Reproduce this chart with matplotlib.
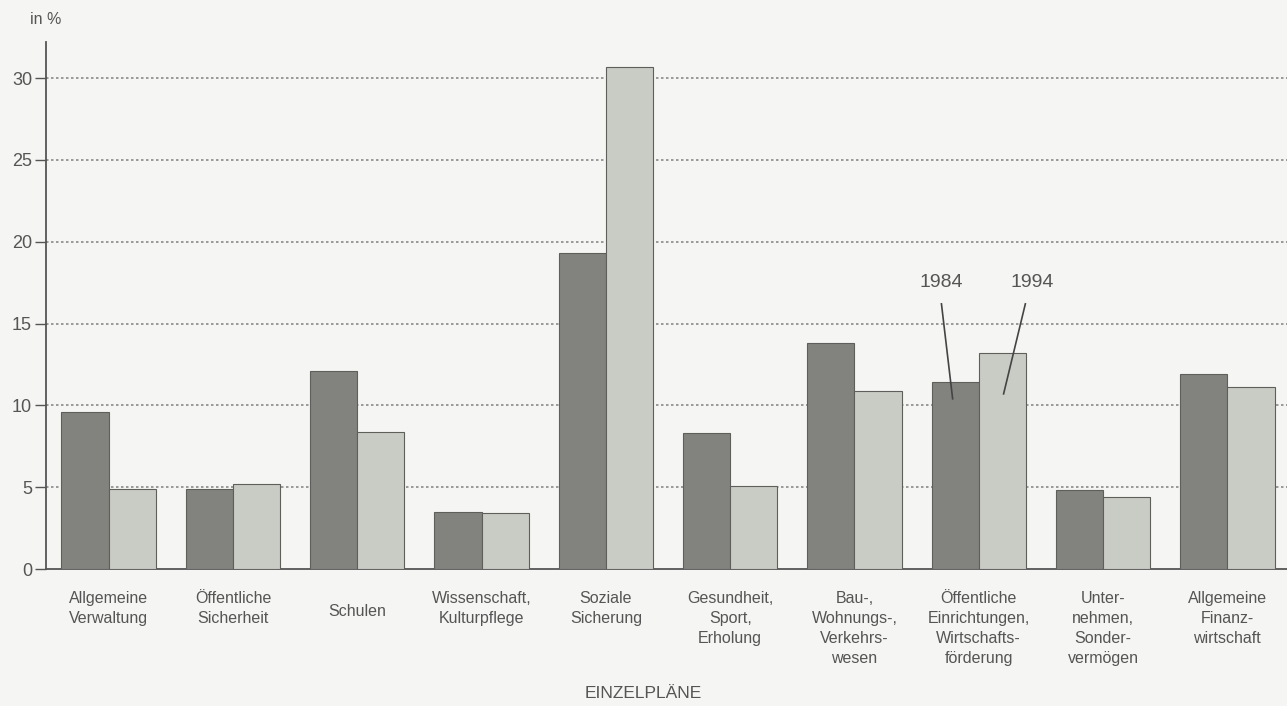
import numpy as np
import matplotlib.pyplot as plt

categories = [
    "Allgemeine\nVerwaltung",
    "Öffentliche\nSicherheit",
    "Schulen",
    "Wissenschaft,\nKulturpflege",
    "Soziale\nSicherung",
    "Gesundheit,\nSport,\nErholung",
    "Bau-,\nWohnungs-,\nVerkehrs-\nwesen",
    "Öffentliche\nEinrichtungen,\nWirtschafts-\nförderung",
    "Unter-\nnehmen,\nSonder-\nvermögen",
    "Allgemeine\nFinanz-\nwirtschaft",
]
values_1984 = [9.6, 4.9, 12.1, 3.5, 19.3, 8.3, 13.8, 11.4, 4.8, 11.9]
values_1994 = [4.9, 5.2, 8.4, 3.4, 30.7, 5.1, 10.9, 13.2, 4.4, 11.1]
yticks = [0, 5, 10, 15, 20, 25, 30]

bg = "#f5f5f3"
dark = "#82837f"
light = "#c9ccc4"
edge = "#5e5e5a"
text_col = "#555555"

plt.rcParams['font.family'] = ['Liberation Sans', 'DejaVu Sans']

fig = plt.figure(figsize=(12.87, 7.06), dpi=100, facecolor=bg)
ax = fig.add_axes([46 / 1287, 137 / 706, 1 - 46 / 1287, 527 / 706])
ax.set_facecolor(bg)

x = np.arange(len(categories))
w = 0.38
ax.bar(x - w / 2, values_1984, w, color=dark, edgecolor=edge, linewidth=0.8, zorder=3)
ax.bar(x + w / 2, values_1994, w, color=light, edgecolor=edge, linewidth=0.8, zorder=3)

ax.set_xlim(-0.504, 9.48)
ax.set_ylim(0, 32.2)

for s in ['top', 'right']:
    ax.spines[s].set_visible(False)
ax.spines['left'].set_color('#555555')
ax.spines['bottom'].set_color('#555555')
ax.spines['left'].set_linewidth(1.3)
ax.spines['bottom'].set_linewidth(1.3)

ax.set_yticks(yticks)
ax.tick_params(axis='y', length=8, width=1, color='#555555', labelsize=13,
               labelcolor=text_col, pad=2)
ax.set_xticks([])
for t in yticks[1:]:
    ax.axhline(t, color='#8a8a8a', linestyle=(0, (1.5, 1.5)), linewidth=1.2, zorder=1)

# category labels below the axis
for xi, lab in zip(x, categories):
    n = lab.count("\n") + 1
    off = -22 if n > 1 else -35
    ax.annotate(lab, xy=(xi, 0), xycoords='data', xytext=(0, off),
                textcoords='offset pixels', ha='center', va='top',
                fontsize=11.5, color=text_col, linespacing=1.42)

fig.text(643 / 1287, 1 - 693 / 706, "EINZELPLÄNE", ha='center', va='center',
         fontsize=12.5, color=text_col)
fig.text(30 / 1287, 1 - 20 / 706, "in %", ha='left', va='center',
         fontsize=11.5, color=text_col)

# series labels with leader lines
k = 7
ax.text(k - 0.3, 17.5, "1984", ha='center', va='center', fontsize=14, color=text_col)
ax.text(k + 0.43, 17.5, "1994", ha='center', va='center', fontsize=14, color=text_col)
ax.plot([k - 0.3, k - w / 2 - 0.02], [16.2, 10.4], color='#444444', linewidth=1.2, zorder=4)
ax.plot([k + 0.375, k + 0.2], [16.2, 10.7], color='#444444', linewidth=1.2, zorder=4)

fig.savefig("out.png", dpi=100, facecolor=bg)
